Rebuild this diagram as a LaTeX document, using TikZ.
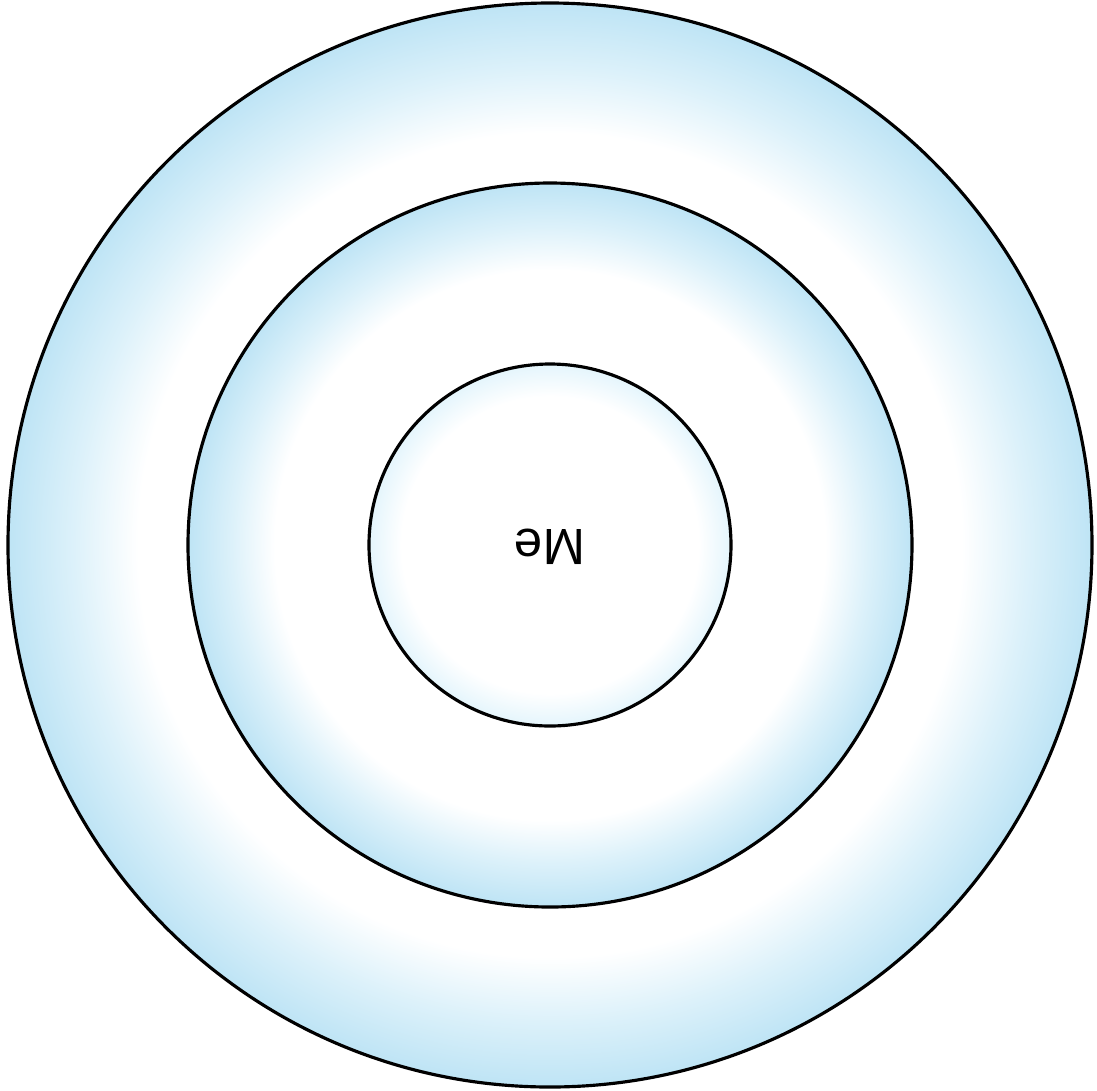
\documentclass[tikz,border=0pt]{standalone}
\usepackage{fontspec}
\setmainfont{Liberation Sans}
\usetikzlibrary{positioning}

\definecolor{ringblue}{RGB}{190,228,245}
\definecolor{ringpale}{RGB}{220,241,250}
\definecolor{corepale}{RGB}{228,245,252}
\pgfdeclareradialshading{ringglow}{\pgfpoint{0bp}{0bp}}{%
  color(0bp)=(white); color(19bp)=(white); color(22bp)=(ringpale);
  color(25bp)=(ringblue); color(50bp)=(ringblue)}
\pgfdeclareradialshading{coreglow}{\pgfpoint{0bp}{0bp}}{%
  color(0bp)=(white); color(20.5bp)=(white); color(25bp)=(corepale);
  color(50bp)=(corepale)}

\begin{document}
\begin{tikzpicture}[scale=1.0,
  ring/.style={draw=black,line width=0.9pt,shading=ringglow},
  core/.style={draw=black,line width=0.9pt,shading=coreglow}]
  \useasboundingbox (-5.50,-5.45) rectangle (5.47,5.45);
  \coordinate (ctr) at (0,0);

  % Rings, outside in
  \shade[ring] (ctr) circle (5.42);
  \shade[ring] (ctr) circle (3.62);
  \shade[core] (ctr) circle (1.81);

  % Label, printed upside down
  \node[rotate=180,font=\fontsize{14.5}{16}\selectfont] (me) at (0,-0.02) {Me};
\end{tikzpicture}
\end{document}
